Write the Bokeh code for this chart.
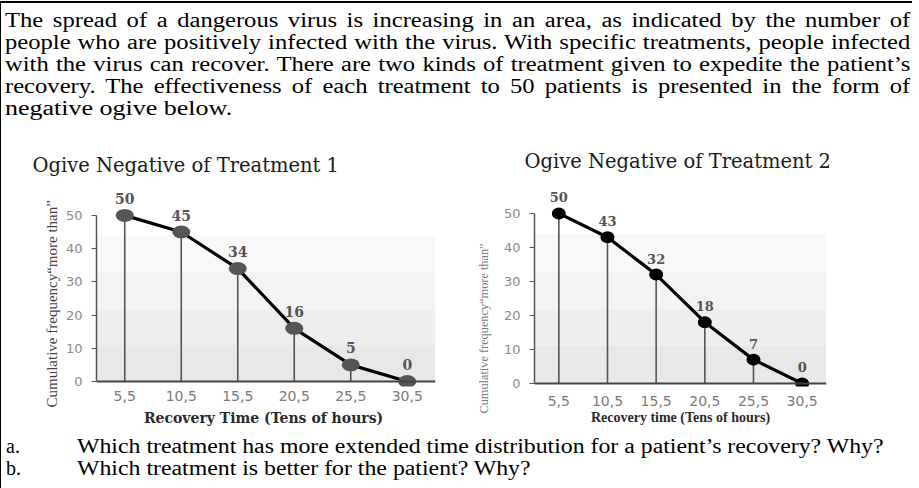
from bokeh.plotting import figure
from bokeh.layouts import column, row
from bokeh.models import Div, BoxAnnotation, Span, FixedTicker, Title
from bokeh.core.properties import value
from bokeh.embed import file_html
from bokeh.resources import INLINE

# ---------------- data ----------------
x_values = [5.5, 10.5, 15.5, 20.5, 25.5, 30.5]
x_labels = ["5,5", "10,5", "15,5", "20,5", "25,5", "30,5"]
y_ticks = [0, 10, 20, 30, 40, 50]
treatment1 = [50, 45, 34, 16, 5, 0]
treatment2 = [50, 43, 32, 18, 7, 0]

title1 = "Ogive Negative of Treatment 1"
title2 = "Ogive Negative of Treatment 2"
xlabel1 = "Recovery Time (Tens of  hours)"
xlabel2 = "Recovery time (Tens of hours)"
ylabel = "Cumulative frequency\u201cmore than\u201d"

para_lines = [
    "The spread of a dangerous virus is increasing in an area, as indicated by the number of",
    "people who are positively infected with the virus. With specific treatments, people infected",
    "with the virus can recover. There are two kinds of treatment given to expedite the patient\u2019s",
    "recovery. The effectiveness of each treatment to 50 patients is presented in the form of",
    "negative ogive below.",
]
questions = [
    ("a.", "Which treatment has more extended time distribution for a patient\u2019s recovery? Why?"),
    ("b.", "Which treatment is better for the patient? Why?"),
]

FONT_STYLE = "font-family:'Liberation Serif';font-size:20px;line-height:22px;color:#000;"

# ---------------- paragraph ----------------
html = ('<div style="%s box-sizing:border-box;width:913px;height:128px;margin-top:1px;'
        'border-top:2px solid #000;border-left:2px solid #000;margin-left:1px;'
        'padding:6px 0 0 4px;overflow:hidden;">' % FONT_STYLE)
for i, ln in enumerate(para_lines):
    last = i == len(para_lines) - 1
    html += ('<div style="width:736px;white-space:nowrap;text-align:justify;text-align-last:%s;'
             'transform:scaleX(%s);transform-origin:0 0;">%s</div>'
             % ("left" if last else "justify", "1.3" if last else "1.23", ln))
html += "</div>"
div_top = Div(text=html, width=914, height=128, margin=0)

qhtml = ('<div style="%s box-sizing:border-box;width:913px;height:56px;border-left:2px solid #000;'
         'margin-left:1px;padding:3px 0 0 5px;overflow:hidden;">' % FONT_STYLE)
for lab, q in questions:
    qhtml += ('<div style="white-space:nowrap;"><span style="display:inline-block;width:71px;">%s</span>'
              '<span style="display:inline-block;transform:scaleX(1.19);transform-origin:0 0;">%s</span></div>'
              % (lab, q))
qhtml += "</div>"
div_q = Div(text=qhtml, width=914, height=56, margin=0)

div_bar = Div(text='<div style="width:2px;height:304px;margin-left:1px;background:#000;"></div>',
              width=3, height=304, margin=0)


def make_chart(vals, title, xlabel, width, mb_left, mb_right, yr,
               marker_color, mw, mh, lab_off, lab_size, xlab_font, xlab_size,
               xlab_standoff, tick_standoff, ylab_offset, ylab_standoff, ylab_size,
               ylab_color, title_offset, title_gap):
    p = figure(width=width, height=304, x_range=(3.0, 33.0), y_range=yr,
               output_backend="svg", toolbar_location=None,
               min_border_left=mb_left, min_border_right=mb_right,
               min_border_top=57, min_border_bottom=46, margin=0)
    p.outline_line_color = None
    p.xgrid.visible = False
    p.ygrid.visible = False
    p.background_fill_color = "white"
    p.border_fill_color = "white"

    grays = ["#e8e8e8", "#eeeeee", "#f3f3f3", "#f8f8f8"]
    for i, g in enumerate(grays):
        p.add_layout(BoxAnnotation(bottom=i * 11, top=(i + 1) * 11, fill_color=g,
                                   fill_alpha=1.0, line_color=None, level="underlay"))

    # spacer between frame and the chart title
    p.add_layout(Title(text="\u00a0", text_font_size="%dpx" % title_gap, standoff=0), "above")

    p.title.text = title
    p.title.text_font = "DejaVu Serif"
    p.title.text_font_size = "19.5px"
    p.title.text_font_style = "normal"
    p.title.text_color = "#1a1a1a"
    p.title.align = "left"
    p.title.offset = title_offset
    p.title.standoff = 0

    xa = p.xaxis[0]
    xa.ticker = FixedTicker(ticks=x_values)
    xa.major_label_overrides = {x: l for x, l in zip(x_values, x_labels)}
    xa.axis_line_color = None
    xa.major_tick_line_color = None
    xa.major_tick_out = 0
    xa.major_tick_in = 0
    xa.minor_tick_line_color = None
    xa.major_label_text_font = "DejaVu Sans"
    xa.major_label_text_font_size = "14px"
    xa.major_label_text_color = "#7a7a7a"
    xa.major_label_standoff = tick_standoff
    xa.axis_label = xlabel
    xa.axis_label_text_font = xlab_font
    xa.axis_label_text_font_size = xlab_size
    xa.axis_label_text_font_style = "bold"
    xa.axis_label_text_color = "#2a2a2a"
    xa.axis_label_standoff = xlab_standoff

    ya = p.yaxis[0]
    ya.ticker = FixedTicker(ticks=y_ticks)
    ya.bounds = (0, 50)
    ya.axis_line_color = "#555555"
    ya.axis_line_width = 1.5
    ya.major_tick_line_color = "#555555"
    ya.major_tick_out = 5
    ya.major_tick_in = 0
    ya.minor_tick_line_color = None
    ya.major_label_text_font = "DejaVu Sans"
    ya.major_label_text_font_size = "13px"
    ya.major_label_text_color = "#8a8a8a"
    ya.major_label_standoff = 9

    # vertical axis title, placed as a left-side title so it can be shifted along the axis
    p.add_layout(Title(text=ylabel, align="left", offset=ylab_offset, standoff=ylab_standoff,
                       text_font="Liberation Sans Narrow", text_font_size=ylab_size,
                       text_font_style="normal", text_color=ylab_color), "left")

    p.add_layout(Span(location=0, dimension="width", line_color="#444444", line_width=2))

    p.segment(x0=x_values, y0=[0] * len(vals), x1=x_values, y1=vals,
              line_color="#555555", line_width=1.6)
    p.line(x_values, vals, line_color="black", line_width=3.2)
    p.ellipse(x=x_values, y=vals, width=mw, height=mh, width_units="screen",
              height_units="screen", fill_color=marker_color, line_color=None)
    p.text(x=x_values, y=vals, text=[str(v) for v in vals], text_align="center",
           text_baseline="middle", y_offset=-lab_off, text_font=value("DejaVu Serif"),
           text_font_style="bold", text_font_size=lab_size, text_color="#555555")
    return p


fig1 = make_chart(treatment1, title1, xlabel1, 457, 95, 23, (-1.5, 59.0),
                  "#555555", 18, 13, 17, "14px", "DejaVu Serif", "14px", 6, 4,
                  -21, 5, "15px", "#444444", -64, 7)
fig2 = make_chart(treatment2, title2, xlabel2, 453, 76, 85, (-0.9, 58.2),
                  "#000000", 14, 12, 16, "13px", "Liberation Serif", "14px", 1, 9,
                  -27, 20, "12.3px", "#7a7a7a", -10, 10)

root = column(div_top, row(div_bar, fig1, fig2, spacing=0), div_q, spacing=0,
              styles={"margin-left": "-2px"})

open("out.html", "w").write(file_html(root, INLINE))
